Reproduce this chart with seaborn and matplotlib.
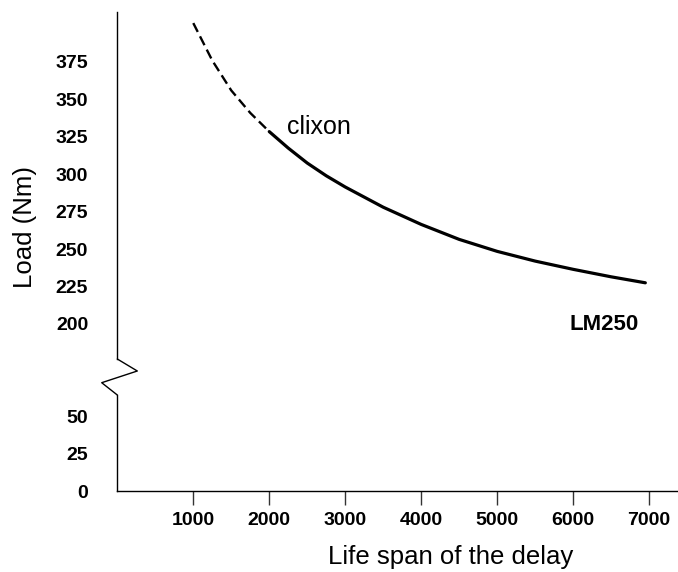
import numpy as np
import pandas as pd
import matplotlib
matplotlib.use("Agg")
import matplotlib.pyplot as plt
from matplotlib.lines import Line2D
import seaborn as sns

# Load vs. life span
life_dashed = [1000, 1250, 1500, 1750, 2000]
load_dashed = [401, 376, 356, 341, 328.5]
life_solid = [2000, 2250, 2500, 2750, 3000, 3500, 4000, 4500, 5000, 5500,
              6000, 6500, 6950]
load_solid = [328.5, 317.5, 307.5, 299, 291.5, 278, 266.5, 256.5, 248.5, 242,
              236.5, 231.5, 227.5]

x_ticks = [1000, 2000, 3000, 4000, 5000, 6000, 7000]
y_ticks_top = [200, 225, 250, 275, 300, 325, 350, 375]
y_ticks_bottom = [0, 25, 50]

sns.set_theme(style="white")
plt.rcParams["font.family"] = ["Liberation Sans", "DejaVu Sans"]
plt.rcParams["text.color"] = "black"
plt.rcParams["axes.labelcolor"] = "black"
plt.rcParams["xtick.color"] = "black"
plt.rcParams["ytick.color"] = "black"

W, H = 678, 572
fig = plt.figure(figsize=(W / 100, H / 100), dpi=100)

left = 117.3 / W
ax_top = fig.add_axes([left, 1 - 359 / H, 1 - left, (359 - 12) / H])
ax_bot = fig.add_axes([left, 1 - 491 / H, 1 - left, (491 - 395) / H])

df_dash = pd.DataFrame({"life": life_dashed, "load": load_dashed})
df_solid = pd.DataFrame({"life": life_solid, "load": load_solid})

sns.lineplot(data=df_dash, x="life", y="load", ax=ax_top, color="black",
             linewidth=1.7, estimator=None, sort=False)
ax_top.lines[-1].set_dashes((4.2, 2.1))
sns.lineplot(data=df_solid, x="life", y="load", ax=ax_top, color="black",
             linewidth=2.3, estimator=None, sort=False)

for ax in (ax_top, ax_bot):
    ax.set_xlim(0, 7380)
    ax.set_facecolor("none")
    for s in ("top", "right"):
        ax.spines[s].set_visible(False)
    ax.spines["left"].set_color("black")
    ax.spines["left"].set_linewidth(1.0)
    ax.tick_params(axis="y", direction="out", length=10, width=1.0,
                   color="#333333", labelcolor="black", pad=11, labelsize=14)
    ax.set_xlabel("")
    ax.set_ylabel("")

ax_top.set_ylim(176.6, 408.4)
ax_top.set_yticks(y_ticks_top)
ax_top.set_yticklabels([str(v) for v in y_ticks_top], fontweight="bold")
ax_top.spines["bottom"].set_visible(False)
ax_top.set_xticks([])

ax_bot.set_ylim(0, 64.1)
ax_bot.set_yticks(y_ticks_bottom)
ax_bot.set_yticklabels([str(v) for v in y_ticks_bottom], fontweight="bold")
ax_bot.yaxis.get_major_ticks()[0].tick1line.set_visible(False)
ax_bot.spines["bottom"].set_color("black")
ax_bot.spines["bottom"].set_linewidth(1.0)
ax_bot.set_xticks(x_ticks)
ax_bot.set_xticklabels([str(v) for v in x_ticks], fontweight="bold")
ax_bot.tick_params(axis="x", direction="out", length=10, width=1.0,
                   color="#333333", labelcolor="black", pad=5, labelsize=14,
                   bottom=True)

ax_bot.set_xlabel("Life span of the delay", fontsize=18.5, color="black")
ax_bot.xaxis.label.set_va("center")
ax_bot.xaxis.set_label_coords(0.595, -0.69)

ax_top.set_ylabel("Load (Nm)", fontsize=18.5, color="black")
ax_top.yaxis.label.set_va("center")
ax_top.yaxis.set_label_coords(-0.165, 0.38)

ax_top.text(2230, 327, "clixon", fontsize=18, color="black",
            ha="left", va="baseline")
ax_top.text(5950, 196, "LM250", fontsize=16, fontweight="bold",
            color="black", ha="left", va="baseline")

# axis break zigzag
zx = np.array([117.3, 137.3, 101.7, 117.3])
zy = np.array([359, 371, 382.7, 395])
fig.add_artist(Line2D(zx / W, 1 - zy / H, transform=fig.transFigure,
                      color="black", linewidth=1.0))

fig.savefig("out.png", dpi=100)
